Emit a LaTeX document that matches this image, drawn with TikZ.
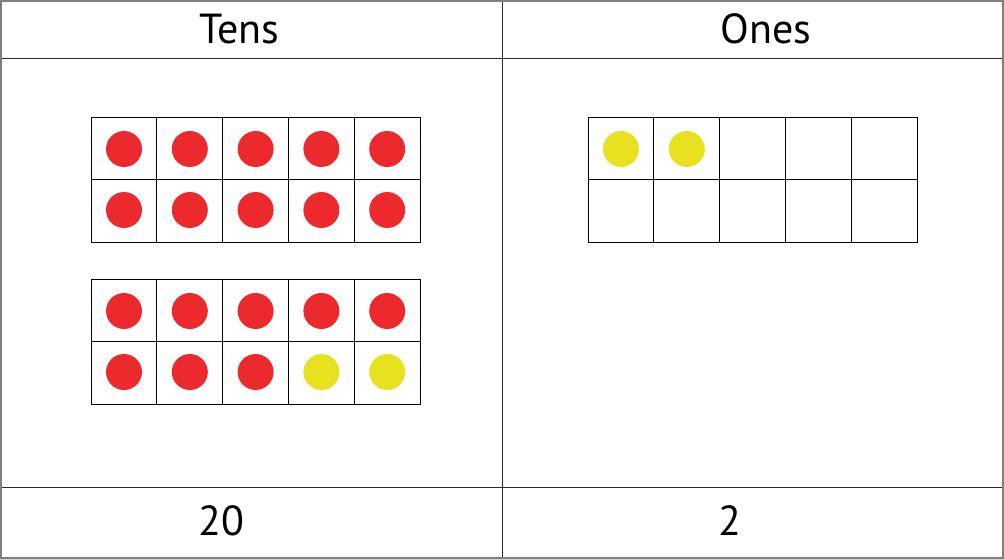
\documentclass[tikz,border=0pt]{standalone}
\usepackage{fontspec}
\setmainfont{PT Sans}
\definecolor{tfRed}{HTML}{EC2A2E}
\definecolor{tfYellow}{HTML}{E8E11F}
\definecolor{tfRule}{HTML}{7F7F7F}
\definecolor{tfLine}{HTML}{2B2B2B}

\begin{document}
\begin{tikzpicture}[x=1pt,y=-1pt,font=\fontsize{42}{48}\selectfont,
  tfcell/.style={draw=black,line width=0.9pt},
  counter/.style={circle,inner sep=0pt,minimum size=36pt},
  heading/.style={inner sep=0pt,anchor=base}]
  \useasboundingbox (0,0) rectangle (1004,559);
  \fill[white] (0,0) rectangle (1004,559);

  % table
  \draw[tfLine,line width=1pt] (0,59) -- (1004,59);
  \draw[tfLine,line width=1pt] (0,487) -- (1004,487);
  \draw[tfLine,line width=1pt] (502,0) -- (502,559);
  \draw[tfRule,line width=2pt] (1,1) rectangle (1003,558);

  \node[heading] (tens) at (239,44) {Tens};
  \node[heading] (ones) at (766,44) {Ones};
  \node[heading] (tensval) at (221,535) {20};
  \node[heading] (onesval) at (730,535) {2};

  % ten-frames
  \foreach \fx/\fy in {91/117,91/279,588/117} {
    \foreach \cc in {0,...,4} {
      \foreach \rr in {0,1} {
        \draw[tfcell] (\fx+\cc*65.8,\fy+\rr*62.5) rectangle ++(65.8,62.5);
      }
    }
  }

  % counters
  \foreach \cc in {0,...,4} {
    \node[counter,fill=tfRed] (a\cc) at (124+\cc*65.8,149) {};
    \node[counter,fill=tfRed] (b\cc) at (124+\cc*65.8,210) {};
    \node[counter,fill=tfRed] (c\cc) at (124+\cc*65.8,311) {};
  }
  \foreach \cc in {0,1,2} {
    \node[counter,fill=tfRed] (d\cc) at (124+\cc*65.8,372) {};
  }
  \foreach \cc in {3,4} {
    \node[counter,fill=tfYellow] (d\cc) at (124+\cc*65.8,372) {};
  }
  \foreach \cc in {0,1} {
    \node[counter,fill=tfYellow] (e\cc) at (621+\cc*65.8,149) {};
  }
\end{tikzpicture}
\end{document}
